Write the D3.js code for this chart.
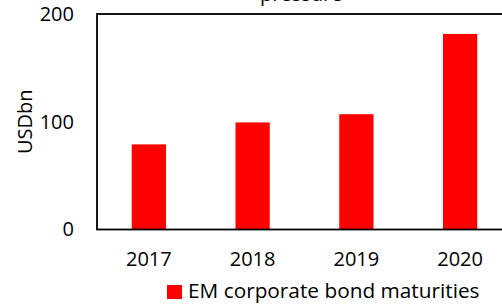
<!DOCTYPE html>
<html>
<head>
<meta charset="utf-8">
<script src="https://cdn.jsdelivr.net/npm/d3@7"></script>
<style>
  body { margin: 0; background: #fff; }
  svg { display: block; font-family: "Open Sans", sans-serif; }
</style>
</head>
<body>
<div id="chart"></div>
<script>
const years = ["2017", "2018", "2019", "2020"];
const maturities = [79, 99.4, 107, 181.5];
const yTicks = [0, 100, 200];
const seriesName = "EM corporate bond maturities";
const titleText = "pressure";

const width = 502, height = 305;
const margin = {top: 14, right: -10, bottom: 75.5, left: 97};
const plot_width = width - margin.left - margin.right;
const plot_height = height - margin.top - margin.bottom;

const svg = d3.select("#chart").append("svg")
    .attr("width", width)
    .attr("height", height);

// title, cut off at the top like the original
svg.append("text")
    .attr("x", 260)
    .attr("y", 0.6)
    .style("font-size", "20px")
    .attr("fill", "#000")
    .text(titleText);

const g = svg.append("g")
    .attr("transform", `translate(${margin.left},${margin.top})`);

const xScale = d3.scaleBand()
    .domain(years)
    .range([0, plot_width])
    .paddingInner(0.67)
    .paddingOuter(0.335);

const yScale = d3.scaleLinear()
    .domain([0, 200])
    .range([plot_height, 0]);

// bars
g.selectAll(".bar")
    .data(years)
    .enter()
    .append("rect")
    .attr("class", "bar")
    .attr("x", d => xScale(d))
    .attr("y", (d, i) => yScale(maturities[i]))
    .attr("width", xScale.bandwidth())
    .attr("height", (d, i) => plot_height - yScale(maturities[i]))
    .attr("fill", "#ff0000");

// plot frame
g.append("rect")
    .attr("x", 0)
    .attr("y", 0)
    .attr("width", plot_width)
    .attr("height", plot_height)
    .attr("fill", "none")
    .attr("stroke", "#000")
    .attr("stroke-width", 1.8);

// y axis labels
const yAxis = d3.axisLeft(yScale).tickValues(yTicks).tickSize(0).tickPadding(23);
const yAxisGroup = g.append("g").call(yAxis);
yAxisGroup.select(".domain").remove();
yAxisGroup.selectAll("text")
    .style("font-size", "20px")
    .style("font-family", "Open Sans, sans-serif")
    .attr("fill", "#000");

// x axis labels
const xAxis = d3.axisBottom(xScale).tickSize(0).tickPadding(22);
const xAxisGroup = g.append("g")
    .attr("transform", `translate(0,${plot_height})`)
    .call(xAxis);
xAxisGroup.select(".domain").remove();
xAxisGroup.selectAll("text")
    .style("font-size", "20px")
    .style("font-family", "Open Sans, sans-serif")
    .attr("fill", "#000");

// y axis title
svg.append("text")
    .attr("transform", `translate(32,${margin.top + plot_height / 2}) rotate(-90)`)
    .attr("text-anchor", "middle")
    .style("font-size", "20px")
    .attr("fill", "#000")
    .text("USDbn");

// legend
const legend = svg.append("g").attr("transform", "translate(167,285)");
legend.append("rect")
    .attr("width", 15)
    .attr("height", 14)
    .attr("fill", "#ff0000");
legend.append("text")
    .attr("x", 21)
    .attr("y", 13)
    .style("font-size", "20.8px")
    .attr("fill", "#000")
    .text(seriesName);
</script>
</body>
</html>
